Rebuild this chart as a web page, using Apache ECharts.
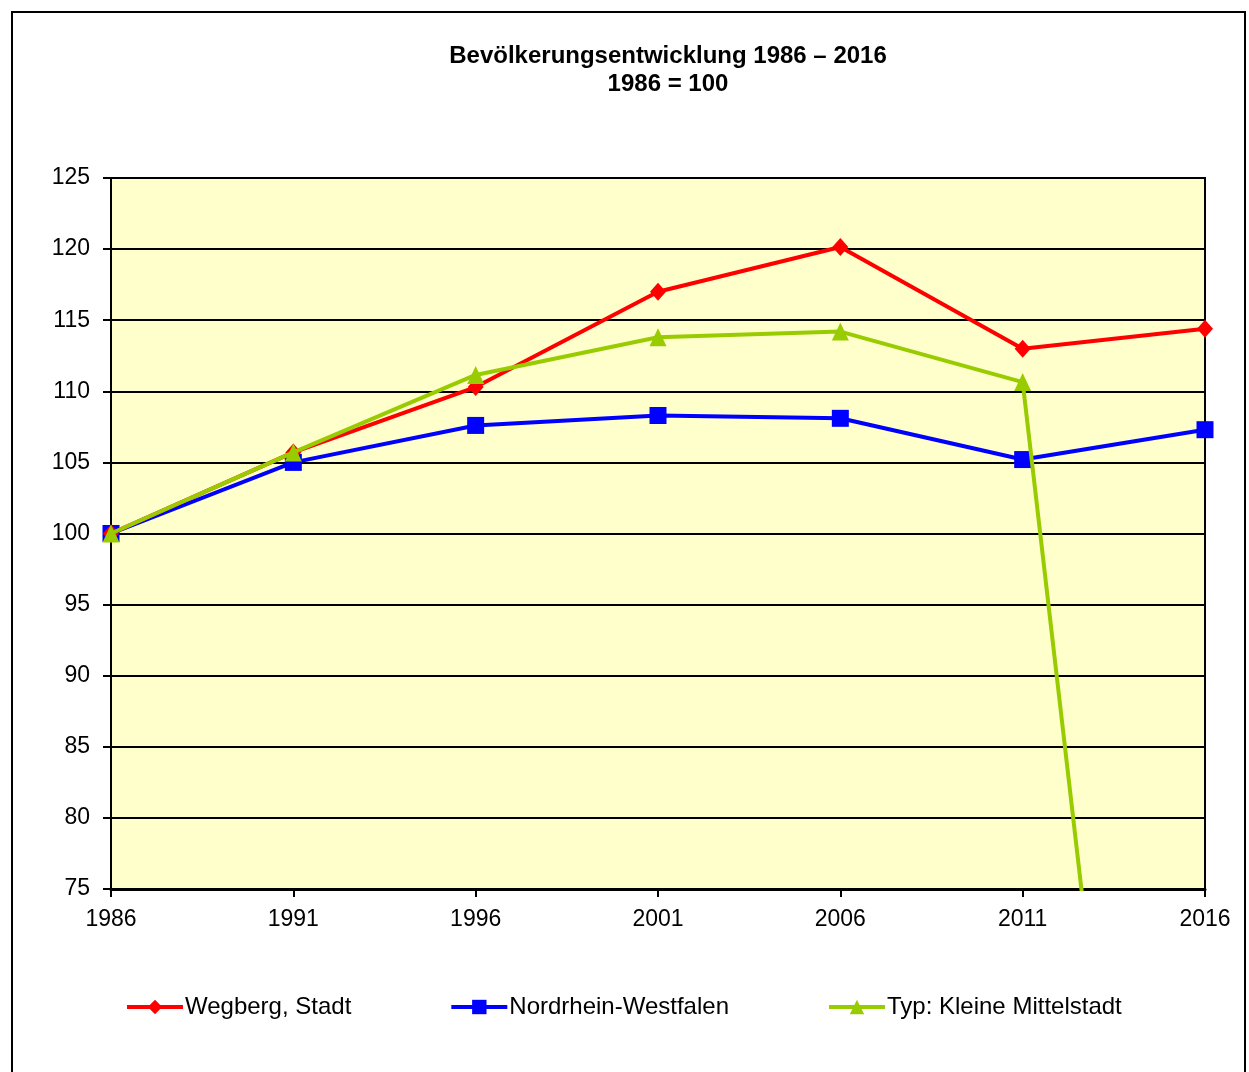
<!DOCTYPE html>
<html><head><meta charset="utf-8">
<script src="https://cdn.jsdelivr.net/npm/echarts@6/dist/echarts.min.js"></script>
<style>html,body{margin:0;padding:0;background:#fff}#c{width:1249px;height:1072px}</style>
</head><body><div id="c"></div>
<script>
const years = ['1986','1991','1996','2001','2006','2011','2016'];
const wegberg = [100, 105.7, 110.3, 117.0, 120.15, 113.0, 114.4];
const nrw = [100, 105.0, 107.6, 108.3, 108.1, 105.2, 107.3];
const kleineMittelstadt = [100, 105.7, 111.15, 113.8, 114.2, 110.65, 0];
const seriesNames = ['Wegberg, Stadt', 'Nordrhein-Westfalen', 'Typ: Kleine Mittelstadt'];
const titleLines = ['Bevölkerungsentwicklung 1986 – 2016', '1986 = 100'];

const font = '"Liberation Sans", Arial, sans-serif';
const chart = echarts.init(document.getElementById('c'));
chart.setOption({
  animation: false,
  backgroundColor: '#fff',
  graphic: [{
    type: 'rect', z: -1,
    shape: {x: 12, y: 12, width: 1233, height: 1090},
    style: {fill: 'none', stroke: '#000', lineWidth: 2}
  }],
  title: {
    text: titleLines.join('\n'),
    left: 663, top: 37, textAlign: 'center',
    textStyle: {fontFamily: font, fontWeight: 'bold', fontSize: 24, color: '#000', lineHeight: 28}
  },
  legend: {
    left: 125, top: 995, padding: 0, itemGap: 98, itemWidth: 56, itemHeight: 18,
    lineStyle: {width: 4},
    textStyle: {fontFamily: font, fontSize: 24, color: '#000', padding: [0,0,0,-3]},
    data: seriesNames
  },
  grid: {left: 111, right: 44, top: 178, bottom: 183, show: true, backgroundColor: '#FFFFCC', borderWidth: 2, borderColor: '#000'},
  xAxis: {
    type: 'category', data: years, boundaryGap: false,
    axisLine: {show: true, onZero: false, lineStyle: {color: '#000', width: 3}},
    axisTick: {show: true, length: 8, alignWithLabel: true, lineStyle: {color: '#000', width: 2}},
    axisLabel: {fontFamily: font, fontSize: 23, color: '#000', margin: 19},
    splitLine: {show: false}
  },
  yAxis: {
    type: 'value', min: 75, max: 125, interval: 5,
    axisLine: {show: true, lineStyle: {color: '#000', width: 2}},
    axisTick: {show: true, length: 8, lineStyle: {color: '#000', width: 2}},
    axisLabel: {fontFamily: font, fontSize: 23, color: '#000', margin: 21},
    splitLine: {show: true, lineStyle: {color: '#000', width: 2}}
  },
  series: [
    {name: seriesNames[0], type: 'line', data: wegberg, symbol: 'diamond', symbolSize: [16, 18],
     lineStyle: {color: '#FF0000', width: 4}, itemStyle: {color: '#FF0000'}, z: 3},
    {name: seriesNames[1], type: 'line', data: nrw, symbol: 'rect', symbolSize: 17,
     lineStyle: {color: '#0000FF', width: 4}, itemStyle: {color: '#0000FF'}, z: 2},
    {name: seriesNames[2], type: 'line', data: kleineMittelstadt, symbol: 'triangle', symbolSize: [17, 18],
     lineStyle: {color: '#99CC00', width: 4}, itemStyle: {color: '#99CC00'}, z: 4, clip: true}
  ]
});
</script></body></html>
